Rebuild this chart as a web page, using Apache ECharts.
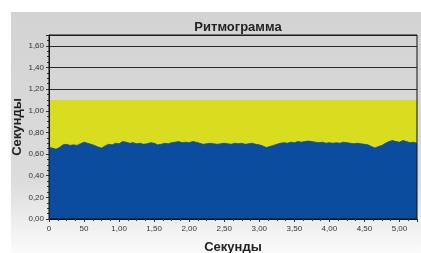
<!DOCTYPE html>
<html><head><meta charset="utf-8">
<script src="https://cdn.jsdelivr.net/npm/echarts@6/dist/echarts.min.js"></script>
<style>html,body{margin:0;padding:0;background:#fff}#c{width:421px;height:253px}</style>
</head><body><div id="c"></div>
<script>
// ---- data ----
const titleText = 'Ритмограмма';
const xName = 'Секунды';
const yName = 'Секунды';
const sampleStep = 0.05;            // spacing between samples on the x axis
const rrValues = [
  0.66,0.655,0.645,0.66,0.685,0.69,0.68,0.685,0.68,0.695,
  0.71,0.70,0.69,0.68,0.665,0.655,0.675,0.69,0.685,0.70,
  0.695,0.715,0.71,0.70,0.705,0.695,0.70,0.69,0.695,0.705,
  0.70,0.685,0.69,0.70,0.695,0.705,0.71,0.715,0.705,0.71,
  0.705,0.715,0.71,0.70,0.69,0.695,0.70,0.695,0.69,0.695,
  0.70,0.695,0.69,0.70,0.695,0.70,0.69,0.695,0.70,0.69,
  0.685,0.675,0.66,0.67,0.68,0.69,0.70,0.705,0.70,0.71,
  0.705,0.715,0.71,0.715,0.72,0.715,0.71,0.705,0.71,0.70,
  0.705,0.70,0.705,0.70,0.71,0.705,0.70,0.695,0.70,0.695,
  0.69,0.685,0.67,0.655,0.67,0.68,0.70,0.715,0.725,0.715,
  0.71,0.725,0.715,0.705,0.71,0.70
];
const normBand = [0, 1.10];          // yellow normal range
const xTickLabels = ['0','50','1,00','1,50','2,00','2,50','3,00','3,50','4,00','4,50','5,00'];
const yTickLabels = ['0,00','0,20','0,40','0,60','0,80','1,00','1,20','1,40','1,60'];

const seriesData = rrValues.map((v, i) => [i * sampleStep, v]);

const chart = echarts.init(document.getElementById('c'), null, {renderer: 'canvas'});
const FF = 'Liberation Sans, Arial, sans-serif';
const labelFont = {fontFamily: FF, fontSize: 8, color: '#333'};
chart.setOption({
  animation: false,
  backgroundColor: '#ffffff',
  graphic: [{
    type: 'rect', left: 11, top: 12, z: -10, silent: true,
    shape: {width: 410, height: 241},
    style: {fill: new echarts.graphic.LinearGradient(0, 0, 0, 1, [
      {offset: 0, color: '#d3d3d3'},
      {offset: 0.7, color: '#dcdcdc'},
      {offset: 1, color: '#fbfbfb'}
    ])}
  }],
  title: {
    text: titleText, left: 233, top: 16, textAlign: 'center',
    textStyle: {fontFamily: FF, fontSize: 13, fontWeight: 'bold', color: '#222'}
  },
  grid: {left: 49, right: 4, top: 35, bottom: 34, show: true, z: 3,
         containLabel: false, outerBoundsMode: 'none',
         backgroundColor: 'transparent', borderColor: '#111', borderWidth: 1},
  xAxis: {
    type: 'value', min: 0, max: 5.25, interval: 0.5, z: 4,
    name: xName, nameLocation: 'middle', nameGap: 22, nameMoveOverlap: false,
    nameTextStyle: {fontFamily: FF, fontSize: 13, fontWeight: 'bold', color: '#222'},
    axisLine: {show: true, onZero: false, lineStyle: {color: '#111', width: 1}},
    axisTick: {show: true, length: 3, lineStyle: {color: '#333'}},
    minorTick: {show: true, splitNumber: 4, length: 2, lineStyle: {color: '#333'}},
    splitLine: {show: false},
    axisLabel: Object.assign({margin: 6, formatter: v => {
      const i = Math.round(v / 0.5);
      return Math.abs(i * 0.5 - v) < 1e-6 && xTickLabels[i] !== undefined ? xTickLabels[i] : '';
    }}, labelFont)
  },
  yAxis: {
    type: 'value', min: 0, max: 1.7, interval: 0.2, z: 1,
    name: yName, nameLocation: 'middle', nameGap: 25, nameMoveOverlap: false,
    nameTextStyle: {fontFamily: FF, fontSize: 13, fontWeight: 'bold', color: '#222'},
    axisLine: {show: true, lineStyle: {color: '#111'}},
    axisTick: {show: true, length: 3, lineStyle: {color: '#333'}},
    minorTick: {show: true, splitNumber: 4, length: 2, lineStyle: {color: '#333'}},
    splitLine: {show: true, lineStyle: {color: '#2a2a2a', width: 1}},
    axisLabel: Object.assign({margin: 5, formatter: v => {
      const i = Math.round(v / 0.2);
      return Math.abs(i * 0.2 - v) < 1e-6 && yTickLabels[i] !== undefined ? yTickLabels[i] : '';
    }}, labelFont)
  },
  series: [
    {
      type: 'line', data: [], z: 0, silent: true,
      markArea: {silent: true, itemStyle: {color: '#d8de1f', opacity: 1},
        data: [[{yAxis: normBand[0]}, {yAxis: normBand[1]}]]}
    },
    {
      type: 'line', data: seriesData, z: 2, symbol: 'none', silent: true,
      lineStyle: {color: '#0c4c9e', width: 0.8},
      areaStyle: {color: '#0c4c9e', opacity: 1}
    }
  ]
});
</script></body></html>
